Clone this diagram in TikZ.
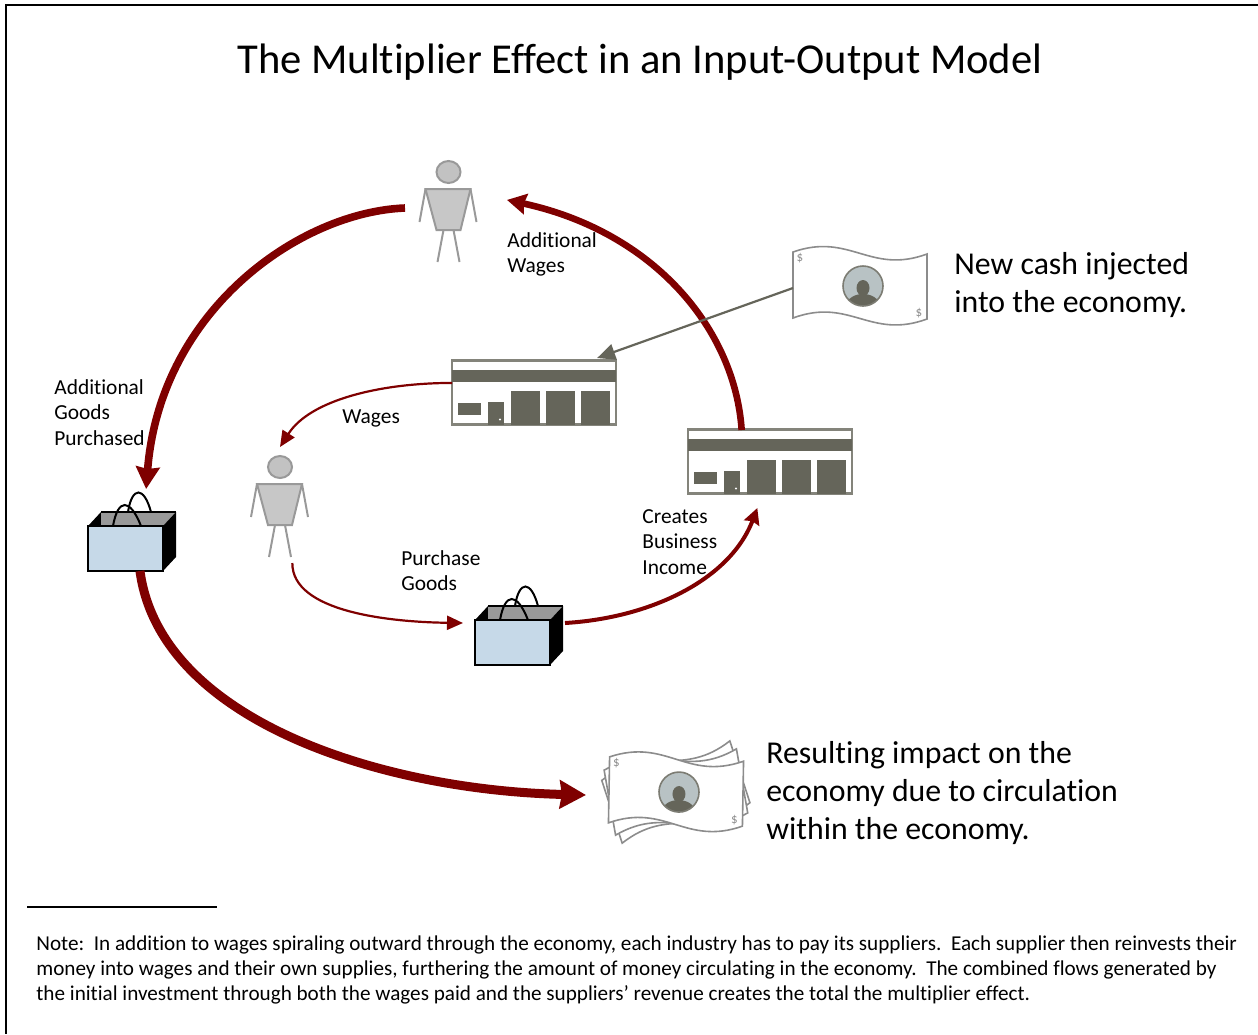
\documentclass[tikz,border=0pt]{standalone}
\usepackage{fontspec}
\setmainfont[Ligatures=NoCommon]{Carlito}
\usetikzlibrary{arrows.meta}

\definecolor{wine}{HTML}{7F0000}
\definecolor{slate}{HTML}{65655A}
\definecolor{bagblue}{HTML}{C6D9E8}
\definecolor{coin}{HTML}{B8C2C4}

\def\billpath{(-67,-34) .. controls (-10,-54) and (10,-11) .. (67,-32)
      -- (67,33) .. controls (10,54) and (-10,11) .. (-67,32) -- cycle}

\tikzset{
  icon/.style={inner sep=0, outer sep=0, minimum width=#1},
  heavy/.style={draw=wine, line width=#1, -{Stealth[inset=1pt,length=0pt 2.9,width=0pt 3.1]}},
  medium/.style={draw=wine, line width=2pt, -{Stealth[inset=1pt,length=8pt,width=8pt]}},
  thin flow/.style={draw=wine, line width=1.1pt, -{Stealth[inset=0pt,length=8pt,width=7pt]}},
  inject/.style={draw=slate, line width=1.1pt, -{Stealth[inset=0pt,length=9pt,width=8pt]}},
  label/.style={align=left, anchor=north west, inner sep=0, font=\fontsize{10.7pt}{12.7pt}\selectfont},
  big label/.style={align=left, anchor=north west, inner sep=0, font=\fontsize{15.9pt}{19.1pt}\selectfont},
  person/.pic={
    \draw[draw=black!40, fill=black!24, line width=1pt] (0,-38) ellipse (12 and 11);
    \draw[draw=black!40, fill=black!22, line width=1pt] (-23,-21)--(22,-21)--(12,20)--(-12,20)--cycle;
    \draw[draw=black!40, line width=1pt] (-23,-21)--(-29,12);
    \draw[draw=black!40, line width=1pt] (22,-21)--(28,12);
    \draw[draw=black!40, line width=1pt] (-5,20)--(-11,52);
    \draw[draw=black!40, line width=1pt] (5,20)--(11,52);
  },
  store/.pic={
    \draw[draw=slate!80, fill=white, line width=1.1pt] (-82,-32) rectangle (82,32);
    \fill[slate] (-82,-23) rectangle (82,-11);
    \fill[slate] (-76,10) rectangle (-53,22);
    \fill[slate] (-46,9) rectangle (-30,32);
    \fill[white] (-34,27) circle (1.2);
    \foreach \a in {-23,12,47}{
      \fill[slate] (\a,-2) rectangle (\a+29,32);
    }
  },
  bag/.pic={
    \fill[black] (-44,-6)--(-31,-20)--(-31,-6)--cycle;
    \fill[black!40] (-31,-20)--(44,-20)--(31,-6)--(-31,-6)--cycle;
    \fill[black] (31,-6)--(44,-20)--(44,25)--(31,39)--cycle;
    \draw[black, line width=1pt] (-31,-20)--(44,-20);
    \draw[black, line width=1pt] (-4,-20) .. controls (0,-46) and (12,-46) .. (19,-20);
    \draw[black, line width=1pt] (-19,-6) .. controls (-14,-34) and (-2,-34) .. (9,-6);
    \draw[black, fill=bagblue, line width=1pt] (-44,-6) rectangle (31,39);
  },
  bill back/.pic={
    \draw[draw=black!45, fill=white, line width=0.8pt] \billpath;
  },
  bill/.pic={
    \draw[draw=black!45, fill=white, line width=0.8pt] \billpath;
    \begin{scope}
      \clip (3,0) circle (20);
      \fill[coin] (3,0) circle (20);
      \fill[slate] (3,2) ellipse (6.5 and 8);
      \fill[slate] (-14,20) .. controls (-12,4) and (18,4) .. (20,20) -- cycle;
    \end{scope}
    \draw[draw=slate!85, line width=0.8pt] (3,0) circle (20);
    \node[text=black!45, font=\fontsize{6.5pt}{6.5pt}\selectfont, inner sep=0] at (-60,-28) {\$};
    \node[text=black!45, font=\fontsize{6.5pt}{6.5pt}\selectfont, inner sep=0] at (59,27) {\$};
  },
}

\begin{document}
\begin{tikzpicture}[x=0.5pt, y=-0.5pt]

\useasboundingbox (0,0) rectangle (1258,1034);
\draw[black, line width=1pt] (1258,5)--(6,5)--(6,1034);

\node[font=\fontsize{21.3pt}{24pt}\selectfont, inner sep=0] (title) at (640,62) {The Multiplier Effect in an Input-Output Model};

% icons
\node[icon=51pt, minimum height=50pt] (personb) at (456,208) {};
\pic at (448.5,210) {person};
\node[icon=29pt, minimum height=58pt] (persona) at (280,505) {};
\pic at (280,505) {person};

\node[icon=82pt, minimum height=35pt] (storea) at (534,393) {};
\pic at (534,392.5) {store};
\node[icon=82pt, minimum height=39pt] (storeb) at (770,469) {};
\pic at (770,461.5) {store};

\node[icon=44pt, minimum height=41pt] (bagb) at (132,530) {};
\pic at (132,532) {bag};
\node[icon=51pt, minimum height=39pt] (baga) at (514,623) {};
\pic at (519,626) {bag};

\node[icon=67pt, minimum height=41pt] (cash) at (860,288) {};
\pic at (860,286) {bill};

\node[icon=90pt, minimum height=52pt] (stack) at (676,795) {};
\pic[rotate=18] at (676,792) {bill back};
\pic[rotate=10] at (676,792) {bill back};
\pic[rotate=-1] at (676,792) {bill};

% flows
\draw[thin flow] (storea.173) .. controls (380,383) and (310,400) .. (persona.north);
\draw[thin flow] (persona.282) .. controls (292,612) and (390,622) .. (baga.west);
\draw[medium] (baga.east) .. controls (650,618) and (730,580) .. (storeb.252);
\draw[heavy=3.3pt] (storeb.126) .. controls (735,330) and (655,232) .. (personb.9);
\draw[heavy=3.8pt] (personb.west) .. controls (300,212) and (160,310) .. (bagb.71);
\draw[heavy=4.5pt] (bagb.281) .. controls (160,720) and (380,790) .. (stack.west);
\draw[inject] (cash.west) -- (storea.29);

% text
\node[label] (wagesb) at (507,232) {Additional\\Wages};
\node[label] (goodsb) at (54,379) {Additional\\Goods\\Purchased};
\node[label] (wagesa) at (342,409) {Wages};
\node[label] (goodsa) at (401,550) {Purchase\\Goods};
\node[label] (income) at (642,509) {Creates\\Business\\Income};
\node[big label] (cashtext) at (954,252) {New cash injected\\into the economy.};
\node[big label] (impact) at (766,741) {Resulting impact on the\\economy due to circulation\\within the economy.};

\draw[black, line width=0.7pt] (27,907)--(217,907);
\node[align=left, anchor=north west, inner sep=0, font=\fontsize{10.58pt}{12.6pt}\selectfont] (note) at (36,935) {Note:\ \ In addition to wages spiraling outward through the economy, each industry has to pay its suppliers.\ \ Each supplier then reinvests their\\money into wages and their own supplies, furthering the amount of money circulating in the economy.\ \ The combined flows generated by\\the initial investment through both the wages paid and the suppliers' revenue creates the total the multiplier effect.};

\end{tikzpicture}
\end{document}
